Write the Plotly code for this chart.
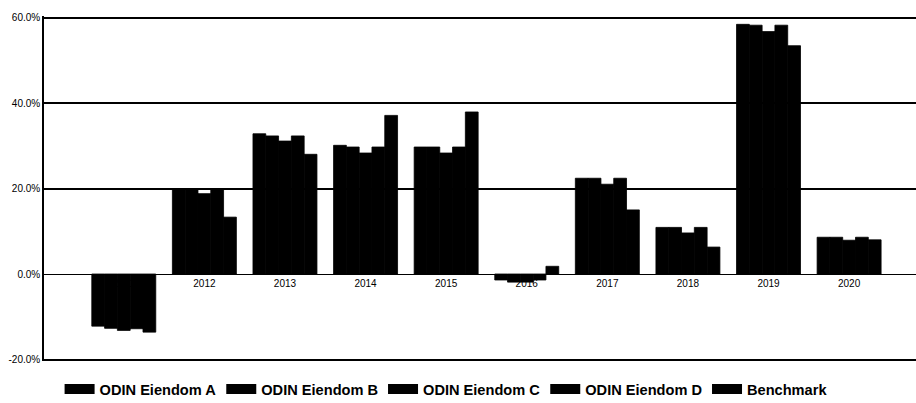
import plotly.graph_objects as go

years = ["2011", "2012", "2013", "2014", "2015", "2016", "2017", "2018", "2019", "2020"]
series_names = ["ODIN Eiendom A", "ODIN Eiendom B", "ODIN Eiendom C", "ODIN Eiendom D", "Benchmark"]
odin_a = [-12.2, 20.0, 32.8, 30.1, 29.7, -1.4, 22.4, 10.9, 58.4, 8.6]
odin_b = [-12.7, 19.8, 32.3, 29.7, 29.7, -1.9, 22.4, 10.9, 58.2, 8.6]
odin_c = [-13.2, 18.8, 31.1, 28.3, 28.3, -1.9, 21.0, 9.6, 56.7, 7.9]
odin_d = [-12.8, 19.8, 32.3, 29.7, 29.7, -1.4, 22.4, 10.9, 58.2, 8.6]
benchmark = [-13.6, 13.3, 28.0, 37.1, 37.9, 1.8, 15.0, 6.3, 53.4, 8.0]
ytick_vals = [-20, 0, 20, 40, 60]
ytick_text = ["-20.0%", "0.0%", "20.0%", "40.0%", "60.0%"]

FONT = "Liberation Sans, Arial, Helvetica, sans-serif"

fig = go.Figure()
for name, vals in zip(series_names, [odin_a, odin_b, odin_c, odin_d, benchmark]):
    fig.add_trace(go.Bar(
        x=years, y=vals, name=name, legendgroup=name, showlegend=False,
        marker=dict(color="#000000", line=dict(width=0.8, color="#000000")),
        hoverinfo="x+y+name",
    ))
    # legend key drawn as a wide black swatch
    fig.add_trace(go.Scatter(
        x=[None], y=[None], name=name, legendgroup=name, mode="lines",
        line=dict(color="#000000", width=11), hoverinfo="skip",
    ))

fig.update_layout(
    template="none",
    width=916, height=403,
    margin=dict(l=44, r=0, t=15.5, b=41.5, autoexpand=False),
    paper_bgcolor="white", plot_bgcolor="white",
    barmode="group", bargap=0.206, bargroupgap=0,
    font=dict(family=FONT, size=10, color="#000000"),
    showlegend=True,
    legend=dict(
        orientation="h", xref="container", x=0.487, xanchor="center",
        yref="container", y=14 / 403, yanchor="middle",
        font=dict(family=FONT, size=14.6, color="#000000", weight="bold"),
        itemwidth=30, tracegroupgap=0, bgcolor="rgba(0,0,0,0)",
    ),
    xaxis=dict(
        type="category", range=[-0.99, 9.83],
        anchor="free", position=0.25 + 0.35 / 80.7, automargin=False,
        showline=False, showgrid=False, zeroline=False,
        ticks="", ticklen=0, ticklabelstandoff=3, layer="below traces",
        tickfont=dict(family=FONT, size=10, color="#000000"),
    ),
    yaxis=dict(
        range=[-20.35, 60.35], tickvals=ytick_vals, ticktext=ytick_text,
        automargin=False,
        showgrid=True, gridcolor="#000000", gridwidth=1.6,
        zeroline=True, zerolinecolor="#000000", zerolinewidth=1,
        showline=True, linecolor="#000000", linewidth=1.6,
        ticks="", ticklen=0,
        tickfont=dict(family=FONT, size=10, color="#000000"),
    ),
)

fig.write_html(
    "out.html",
    config={"displayModeBar": False},
    post_script="document.body.style.margin='0';document.body.style.overflow='hidden';",
)
